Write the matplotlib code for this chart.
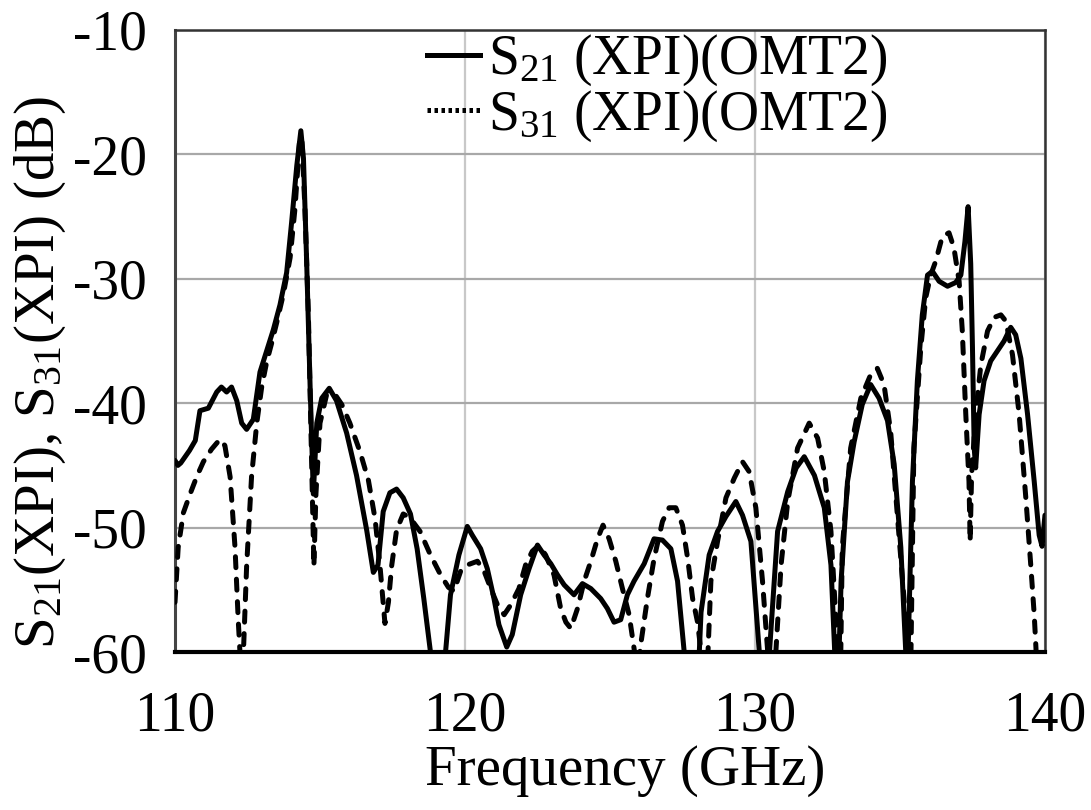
import matplotlib
matplotlib.use("Agg")
import matplotlib.pyplot as plt
from matplotlib.lines import Line2D

plt.rcParams['font.family'] = ['Liberation Serif', 'DejaVu Serif']
plt.rcParams['mathtext.fontset'] = 'custom'
plt.rcParams['mathtext.rm'] = 'Liberation Serif'
plt.rcParams['mathtext.it'] = 'Liberation Serif:italic'

# S21 (XPI)(OMT2) - solid
f21 = [110.0, 110.1, 110.2, 110.5, 110.7, 110.86, 111.15, 111.44, 111.6, 111.78, 111.95,
       112.13, 112.3, 112.47, 112.7, 112.93, 113.16, 113.39, 113.62, 113.85, 114.02, 114.2,
       114.34, 114.43, 114.54, 114.66, 114.77, 114.89, 115.06, 115.32, 115.57, 115.92, 116.26,
       116.61, 116.84, 117.0, 117.18, 117.41, 117.64, 117.87, 118.12, 118.35, 118.58, 118.81,
       118.95, 119.2, 119.33, 119.5, 119.79, 120.08, 120.25, 120.54, 120.77, 121.0, 121.17,
       121.44, 121.63, 121.92, 122.21, 122.5, 122.73, 122.96, 123.19, 123.42, 123.76, 124.05,
       124.34, 124.68, 124.91, 125.14, 125.37, 125.6, 125.83, 126.18, 126.52, 126.81, 127.1,
       127.33, 127.56, 127.7, 127.95, 128.08, 128.14, 128.42, 128.71, 129.0, 129.34, 129.57,
       129.86, 130.15, 130.3, 130.5, 130.78, 131.13, 131.42, 131.7, 132.05, 132.39, 132.62,
       132.75, 132.82, 132.9, 132.97, 133.19, 133.42, 133.7, 133.99, 134.28, 134.57, 134.8,
       135.03, 135.2, 135.24, 135.28, 135.43, 135.6, 135.77, 135.95, 136.12, 136.35, 136.64,
       136.92, 137.1, 137.24, 137.35, 137.44, 137.5, 137.56, 137.61, 137.73, 137.9, 138.13,
       138.36, 138.59, 138.82, 138.99, 139.17, 139.4, 139.63, 139.8, 139.9, 140.0]
s21 = [-44.6, -45.0, -44.8, -43.8, -43.0, -40.6, -40.4, -39.1, -38.7, -39.1, -38.7,
       -39.8, -41.6, -42.1, -41.3, -37.5, -35.8, -34.1, -32.1, -29.5, -25.5, -20.9,
       -18.1, -20.3, -28.6, -38.7, -47.3, -41.6, -39.6, -38.8, -39.8, -42.4, -45.8,
       -50.2, -53.6, -53.0, -48.7, -47.2, -46.9, -47.6, -48.9, -51.7, -55.7, -60.0,
       -64.0, -64.0, -60.0, -55.4, -52.2, -49.9, -50.6, -51.7, -53.3, -55.7, -57.8,
       -59.6, -58.6, -55.4, -53.3, -51.4, -52.2, -52.9, -53.8, -54.6, -55.4, -54.5,
       -54.9, -55.7, -56.5, -57.6, -57.4, -55.4, -54.3, -52.9, -50.9, -51.0, -51.7,
       -54.3, -60.0, -64.0, -64.0, -60.0, -56.8, -52.2, -50.3, -49.1, -47.9, -49.0,
       -51.1, -60.0, -64.0, -60.0, -50.3, -47.1, -45.2, -44.3, -45.8, -48.4, -53.0,
       -60.0, -65.0, -60.0, -54.3, -46.3, -43.1, -40.1, -38.5, -39.6, -41.4, -44.9,
       -51.6, -60.0, -65.0, -60.0, -46.3, -38.2, -32.9, -29.7, -29.4, -30.2, -30.6,
       -30.3, -29.7, -27.0, -24.2, -28.8, -35.5, -43.6, -45.2, -40.9, -38.2, -36.6,
       -35.8, -35.0, -33.9, -34.5, -36.4, -40.9, -46.3, -50.6, -51.5, -49.0]

# S31 (XPI)(OMT2) - dashed
f31 = [110.0, 110.11, 110.29, 110.52, 110.75, 110.98, 111.26, 111.55, 111.72, 111.9, 112.07,
       112.18, 112.24, 112.3, 112.36, 112.47, 112.64, 112.82, 112.99, 113.16, 113.33, 113.51,
       113.74, 113.97, 114.14, 114.29, 114.37, 114.48, 114.6, 114.71, 114.79, 114.86, 115.0,
       115.23, 115.52, 115.75, 116.03, 116.38, 116.67, 116.9, 117.07, 117.24, 117.36, 117.47,
       117.64, 117.87, 118.1, 118.45, 118.81, 119.16, 119.43, 119.62, 119.85, 120.08, 120.43,
       120.66, 120.89, 121.12, 121.35, 121.58, 121.86, 122.09, 122.32, 122.55, 122.78, 123.07,
       123.3, 123.48, 123.65, 123.88, 124.11, 124.34, 124.57, 124.76, 124.97, 125.2, 125.43,
       125.66, 125.83, 125.95, 126.06, 126.29, 126.52, 126.81, 127.04, 127.27, 127.5, 127.68,
       127.85, 128.02, 128.14, 128.25, 128.38, 128.48, 128.71, 129.0, 129.29, 129.57, 129.8,
       130.03, 130.26, 130.44, 130.58, 130.72, 130.9, 131.13, 131.47, 131.87, 132.16, 132.39,
       132.62, 132.75, 132.86, 132.91, 132.96, 133.01, 133.3, 133.65, 133.99, 134.22, 134.45,
       134.68, 134.91, 135.14, 135.24, 135.3, 135.38, 135.48, 135.72, 135.89, 136.06, 136.23,
       136.46, 136.69, 136.86, 137.04, 137.15, 137.27, 137.38, 137.42, 137.47, 137.61, 137.79,
       138.02, 138.25, 138.48, 138.65, 138.88, 139.11, 139.34, 139.51, 139.63, 139.69, 139.75,
       140.0]
s31 = [-56.0, -51.6, -48.8, -47.3, -45.9, -44.7, -43.7, -42.9, -43.4, -45.9, -51.6,
       -57.4, -60.0, -64.0, -60.0, -53.1, -45.9, -41.6, -38.7, -36.7, -35.2, -33.5,
       -31.2, -28.3, -24.3, -19.1, -18.6, -24.3, -32.9, -44.4, -53.1, -47.3, -41.6,
       -39.3, -39.3, -40.1, -41.6, -43.9, -46.2, -49.3, -53.1, -57.7, -56.0, -53.1,
       -50.2, -48.9, -49.2, -50.3, -52.2, -53.8, -54.8, -55.1, -53.5, -53.0, -52.7,
       -53.5, -54.9, -56.2, -57.0, -56.2, -54.9, -53.0, -51.9, -51.4, -52.2, -53.8,
       -56.5, -57.6, -58.1, -56.5, -54.3, -52.7, -50.9, -49.8, -50.9, -52.7, -54.9,
       -57.0, -59.7, -62.0, -59.4, -55.7, -52.5, -49.5, -48.4, -48.4, -49.8, -52.5,
       -55.7, -57.6, -60.0, -64.0, -60.0, -54.3, -51.1, -47.6, -46.0, -44.7, -45.5,
       -48.4, -54.3, -60.0, -64.0, -60.0, -53.0, -47.9, -43.6, -41.6, -42.8, -45.5,
       -50.3, -55.7, -60.0, -64.0, -60.0, -51.6, -43.6, -39.6, -37.7, -37.2, -38.5,
       -42.3, -49.0, -55.7, -60.0, -64.0, -60.0, -43.6, -35.5, -31.5, -29.7, -28.6,
       -26.6, -26.3, -27.5, -30.2, -34.2, -40.9, -46.3, -51.1, -45.8, -40.9, -36.9,
       -34.2, -33.1, -32.9, -33.4, -36.1, -40.9, -47.6, -53.0, -57.0, -59.7, -64.0,
       -64.0]

xticks = [110, 120, 130, 140]
yticks = [-60, -50, -40, -30, -20, -10]
label21 = r'S$_{21}$ (XPI)(OMT2)'
label31 = r'S$_{31}$ (XPI)(OMT2)'

FS = 40

fig = plt.figure(figsize=(10.91, 8.10), dpi=100)
ax = fig.add_axes([0.1604, 0.195, 0.7974, 0.768])

ax.plot(f21, s21, color='black', lw=3.6, solid_joinstyle='round',
        solid_capstyle='round', zorder=3)
ax.plot(f31, s31, color='black', lw=3.6, linestyle=(0, (2.2, 2.3)),
        dash_capstyle='round', dash_joinstyle='round', zorder=3)

ax.set_xlim(110, 140)
ax.set_ylim(-60, -10)
ax.set_xticks(xticks)
ax.set_yticks(yticks)
ax.set_xticklabels([str(t) for t in xticks])
ax.set_yticklabels([str(t) for t in yticks])
ax.tick_params(axis='both', length=0, labelsize=FS)
ax.tick_params(axis='x', pad=28)
ax.tick_params(axis='y', pad=20)

ax.grid(True, axis='y', color='#a8a8a8', lw=1.6)
ax.grid(True, axis='x', color='#c8c8c8', lw=1.6)
ax.set_axisbelow(True)

for side in ['top', 'right']:
    ax.spines[side].set_linewidth(1.8)
    ax.spines[side].set_color('#333333')
ax.spines['left'].set_linewidth(2.2)
ax.spines['left'].set_color('#444444')
ax.spines['bottom'].set_linewidth(3.0)
ax.spines['bottom'].set_color('black')

ax.set_xlabel('Frequency (GHz)', fontsize=FS + 1)
ax.xaxis.set_label_coords(0.517, -0.15)
ax.set_ylabel(r'S$_{21}$(XPI), S$_{31}$(XPI) (dB)', fontsize=FS + 1)
ax.yaxis.set_label_coords(-0.123, 0.45)

handles = [Line2D([], [], color='black', lw=3.6),
           Line2D([], [], color='black', lw=3.6, linestyle=(0, (0.7, 0.7)))]
ax.legend(handles, [label21, label31], loc='upper left',
          bbox_to_anchor=(0.29, 0.995), frameon=False, fontsize=FS,
          handlelength=0.95, handletextpad=0.15, labelspacing=0.0,
          borderpad=0.0, borderaxespad=0.0)

fig.savefig('out.png', dpi=100)
